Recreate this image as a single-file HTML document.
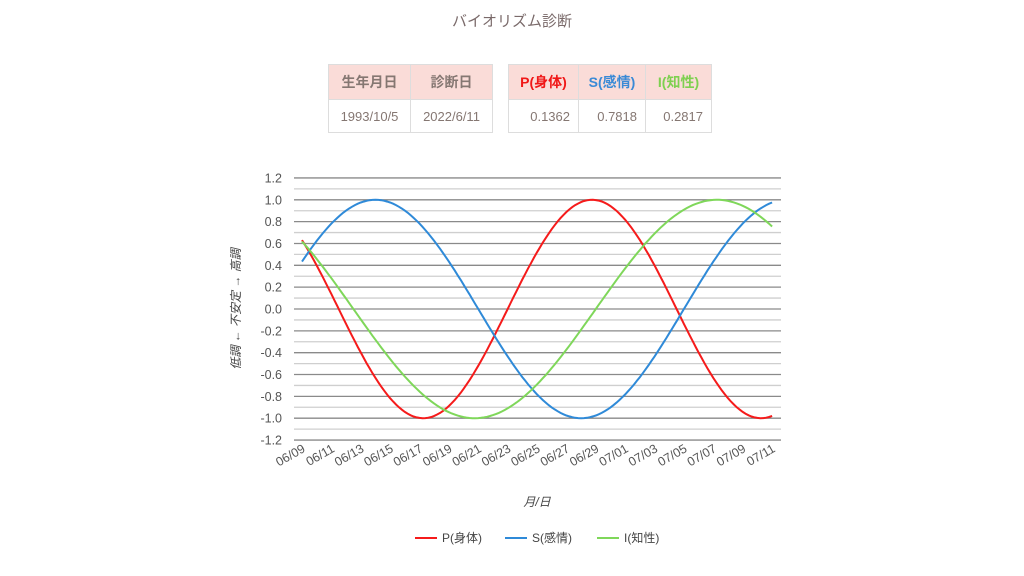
<!DOCTYPE html>
<html><head><meta charset="utf-8"><style>
body{margin:0;width:1024px;height:576px;background:#fff;font-family:"Liberation Sans","Noto Sans CJK JP",sans-serif;position:relative;overflow:hidden}
.title{position:absolute;top:10px;left:0;width:1024px;text-align:center;font-size:15px;color:#7a6a6a}
table{position:absolute;top:64px;border-collapse:collapse;font-family:"Liberation Sans","Noto Sans CJK JP",sans-serif}
td{border:1.5px solid #ddd;text-align:center;color:#857772;padding:0}
tr.h td{background:#fadcd8;height:34px;font-weight:bold;font-size:14px}
tr.d td{height:32px;font-size:13px}
</style></head><body>
<div class="title">バイオリズム診断</div>
<table style="left:328px"><tr class="h"><td style="width:81px">生年月日</td><td style="width:81px">診断日</td></tr>
<tr class="d"><td>1993/10/5</td><td>2022/6/11</td></tr></table>
<table style="left:508px"><tr class="h"><td style="width:69px;color:#f01818">P(身体)</td><td style="width:66px;color:#3a8ad6">S(感情)</td><td style="width:65px;color:#7ed050">I(知性)</td></tr>
<tr class="d"><td style="text-align:right;padding-right:8px">0.1362</td><td style="text-align:right;padding-right:8px">0.7818</td><td style="text-align:right;padding-right:8px">0.2817</td></tr></table>
<svg id="s" width="1024" height="576" style="position:absolute;left:0;top:0" font-family="Liberation Sans, Noto Sans CJK JP, sans-serif"></svg>
<script>
var s='',X0=302,DX=14.69,Y0=309,U=109.2;
for(var i=-12;i<=12;i++){var y=Y0-i*U/10;var maj=(i%2==0);
s+='<line x1="294" x2="781" y1="'+y+'" y2="'+y+'" stroke="'+(maj?'#8a8a8a':'#cfcfcf')+'" stroke-width="1.3"/>';
if(maj)s+='<text x="282" y="'+(y+4.5)+'" text-anchor="end" font-size="12.5" fill="#555">'+(i/10).toFixed(1)+'</text>';}
var days=['06/09','06/11','06/13','06/15','06/17','06/19','06/21','06/23','06/25','06/27','06/29','07/01','07/03','07/05','07/07','07/09','07/11'];
for(var k=0;k<17;k++){var x=X0+k*2*DX+4;s+='<text transform="translate('+x+',451) rotate(-30)" text-anchor="end" font-size="12.5" fill="#555">'+days[k]+'</text>';}
function path(per,col){var d='';for(var t=0;t<=32;t+=0.2){var v=Math.sin(2*Math.PI*(10474+t)/per);d+=(t?'L':'M')+(X0+t*DX).toFixed(1)+','+(Y0-v*U).toFixed(1);}
return '<path d="'+d+'" fill="none" stroke="'+col+'" stroke-width="2"/>';}
s+=path(23,'#f51b1b')+path(28,'#2f8ad8')+path(33,'#7fd75a');
s+='<text transform="translate(240,309) rotate(-90)" text-anchor="middle" font-size="12" font-style="italic" fill="#444">低調 ← 不安定 → 高調</text>';
s+='<text x="537" y="506" text-anchor="middle" font-size="12" font-style="italic" fill="#444">月/日</text>';
var lg=[[415,'#f51b1b','P(身体)'],[505,'#2f8ad8','S(感情)'],[597,'#7fd75a','I(知性)']];
lg.forEach(function(l){s+='<line x1="'+l[0]+'" x2="'+(l[0]+22)+'" y1="538" y2="538" stroke="'+l[1]+'" stroke-width="2"/><text x="'+(l[0]+27)+'" y="542" font-size="12" fill="#444">'+l[2]+'</text>';});
document.getElementById('s').innerHTML=s;
</script>
</body></html>
